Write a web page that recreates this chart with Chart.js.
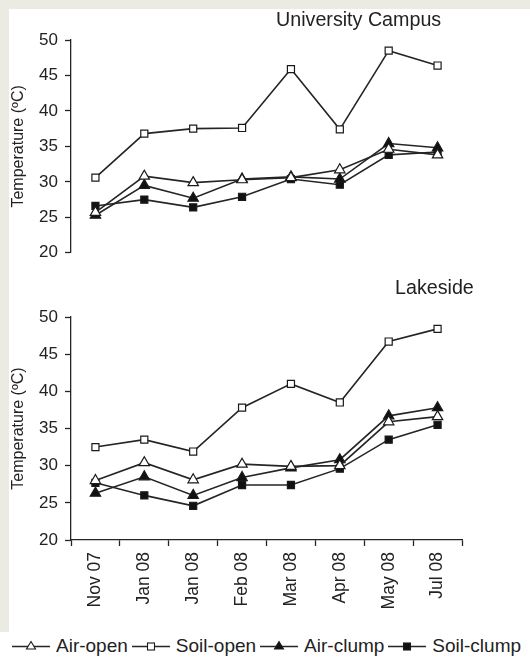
<!DOCTYPE html>
<html>
<head>
<meta charset="utf-8">
<script src="https://cdn.jsdelivr.net/npm/chart.js@4.4.1/dist/chart.umd.min.js"></script>
<style>
  html, body { margin: 0; padding: 0; background: #fff; }
  body { width: 530px; height: 657px; position: relative; overflow: hidden;
         font-family: "Liberation Sans", Arial, sans-serif; color: #222; }
  .frame-top { position: absolute; left: 0; top: 0; width: 530px; height: 9px; background: #ecebe3; }
  .frame-left { position: absolute; left: 0; top: 0; width: 9px; height: 632px; background: #ecebe3; }
  .panel { position: absolute; left: 0; width: 530px; }
  #panel-campus { top: 0; height: 270px; }
  #panel-lake { top: 270px; height: 350px; }
  .site { position: absolute; font-size: 19.7px; white-space: nowrap; }
  #legend { position: absolute; left: 12px; top: 635px; display: flex; align-items: center;
            font-size: 19px; white-space: nowrap; }
  .item { display: flex; align-items: center; margin-right: 4px; }
  .item svg { margin-right: 6px; }
</style>
</head>
<body>
<div class="frame-top"></div>
<div class="frame-left"></div>
<div class="panel" id="panel-campus"><canvas id="chart-campus" width="530" height="270"></canvas></div>
<div class="panel" id="panel-lake"><canvas id="chart-lake" width="530" height="350"></canvas></div>
<div class="site" style="left:276px; top:8px;">University Campus</div>
<div class="site" style="left:395px; top:276px;">Lakeside</div>
<div id="legend"></div>

<script>
  var months = ["Nov 07", "Jan 08", "Jan 08", "Feb 08", "Mar 08", "Apr 08", "May 08", "Jul 08"];
  var yTicks = [20, 25, 30, 35, 40, 45, 50];
  var seriesNames = ["Air-open", "Soil-open", "Air-clump", "Soil-clump"];

  var campusAirOpen = [25.7, 30.8, 29.9, 30.3, 30.6, 31.7, 34.6, 33.8];
  var campusSoilOpen = [30.6, 36.8, 37.5, 37.6, 45.9, 37.4, 48.5, 46.4];
  var campusAirClump = [25.3, 29.5, 27.7, 30.4, 30.7, 30.4, 35.4, 34.8];
  var campusSoilClump = [26.6, 27.5, 26.4, 27.9, 30.4, 29.6, 33.8, 34.2];

  var lakeAirOpen = [28.0, 30.4, 28.1, 30.2, 29.9, 30.0, 35.9, 36.6];
  var lakeSoilOpen = [32.5, 33.5, 31.9, 37.8, 41.0, 38.5, 46.7, 48.4];
  var lakeAirClump = [26.3, 28.5, 26.0, 28.4, 29.7, 30.8, 36.7, 37.8];
  var lakeSoilClump = [27.7, 26.0, 24.6, 27.4, 27.4, 29.6, 33.5, 35.5];

  var ink = "#252525";
  var fontFamily = "'Liberation Sans', Arial, sans-serif";
  Chart.defaults.font.family = fontFamily;
  Chart.defaults.color = "#222";

  var styles = [
    { pointStyle: "triangle", radius: 6, fill: "#fff" },
    { pointStyle: "rect", radius: 5, fill: "#fff" },
    { pointStyle: "triangle", radius: 6, fill: "#111" },
    { pointStyle: "rect", radius: 5, fill: "#111" },
  ];

  function dataset(i, values) {
    var s = styles[i];
    return {
      label: seriesNames[i],
      data: values,
      borderColor: ink,
      borderWidth: 1.6,
      tension: 0,
      fill: false,
      pointStyle: s.pointStyle,
      pointRadius: s.radius,
      pointBackgroundColor: s.fill,
      pointBorderColor: "#1a1a1a",
      pointBorderWidth: 1.2,
    };
  }

  function makeChart(id, series, showX, padTop, padBottom, xHeight) {
    var el = document.getElementById(id);
    return new Chart(el, {
      type: "line",
      data: {
        labels: months,
        datasets: series.map(function (v, i) { return dataset(i, v); }),
      },
      options: {
        responsive: false,
        animation: false,
        layout: { padding: { left: 0, right: 68, top: padTop, bottom: padBottom } },
        plugins: { legend: { display: false }, tooltip: { enabled: false } },
        scales: {
          x: {
            display: showX,
            offset: true,
            grid: { offset: true, drawOnChartArea: false, drawTicks: true, tickLength: 6, color: ink, tickWidth: 1.3 },
            border: { display: true, color: ink, width: 1.3 },
            ticks: { autoSkip: false, minRotation: 90, maxRotation: 90, padding: 6, color: "#222",
                     font: { size: 17.5 } },
            afterFit: function (scale) { if (xHeight) scale.height = xHeight; },
          },
          y: {
            min: 20,
            max: 50,
            afterBuildTicks: function (scale) {
              scale.ticks = yTicks.map(function (v) { return { value: v }; });
            },
            afterFit: function (scale) { scale.width = 71; },
            grid: { drawOnChartArea: false, drawTicks: true, tickLength: 6, color: ink, tickWidth: 1.3 },
            border: { display: true, color: ink, width: 1.3 },
            ticks: { padding: 7, color: "#222", font: { size: 17 } },
            title: { display: true, text: "Temperature (\u00baC)", color: "#222",
                     font: { size: 16 }, padding: { top: 9, bottom: 0 } },
          },
        },
      },
    });
  }

  makeChart("chart-campus", [campusAirOpen, campusSoilOpen, campusAirClump, campusSoilClump], false, 40, 13, 0);
  makeChart("chart-lake", [lakeAirOpen, lakeSoilOpen, lakeAirClump, lakeSoilClump], true, 47, 0, 80);

  // legend: line with marker, then the label
  function markerSvg(s) {
    var m;
    if (s.pointStyle === "triangle") {
      m = '<polygon points="19,5.5 23.5,13 14.5,13" fill="' + s.fill + '" stroke="#1a1a1a" stroke-width="1.1"/>';
    } else {
      m = '<rect x="15.5" y="7" width="7" height="7" fill="' + s.fill + '" stroke="#1a1a1a" stroke-width="1.1"/>';
    }
    return '<svg width="38" height="20" viewBox="0 0 38 20">' +
      '<line x1="0" y1="10.5" x2="38" y2="10.5" stroke="' + ink + '" stroke-width="1.5"/>' + m + '</svg>';
  }
  var legend = document.getElementById("legend");
  seriesNames.forEach(function (name, i) {
    var item = document.createElement("div");
    item.className = "item";
    item.innerHTML = markerSvg(styles[i]) + "<span>" + name + "</span>";
    legend.appendChild(item);
  });
</script>
</body>
</html>
